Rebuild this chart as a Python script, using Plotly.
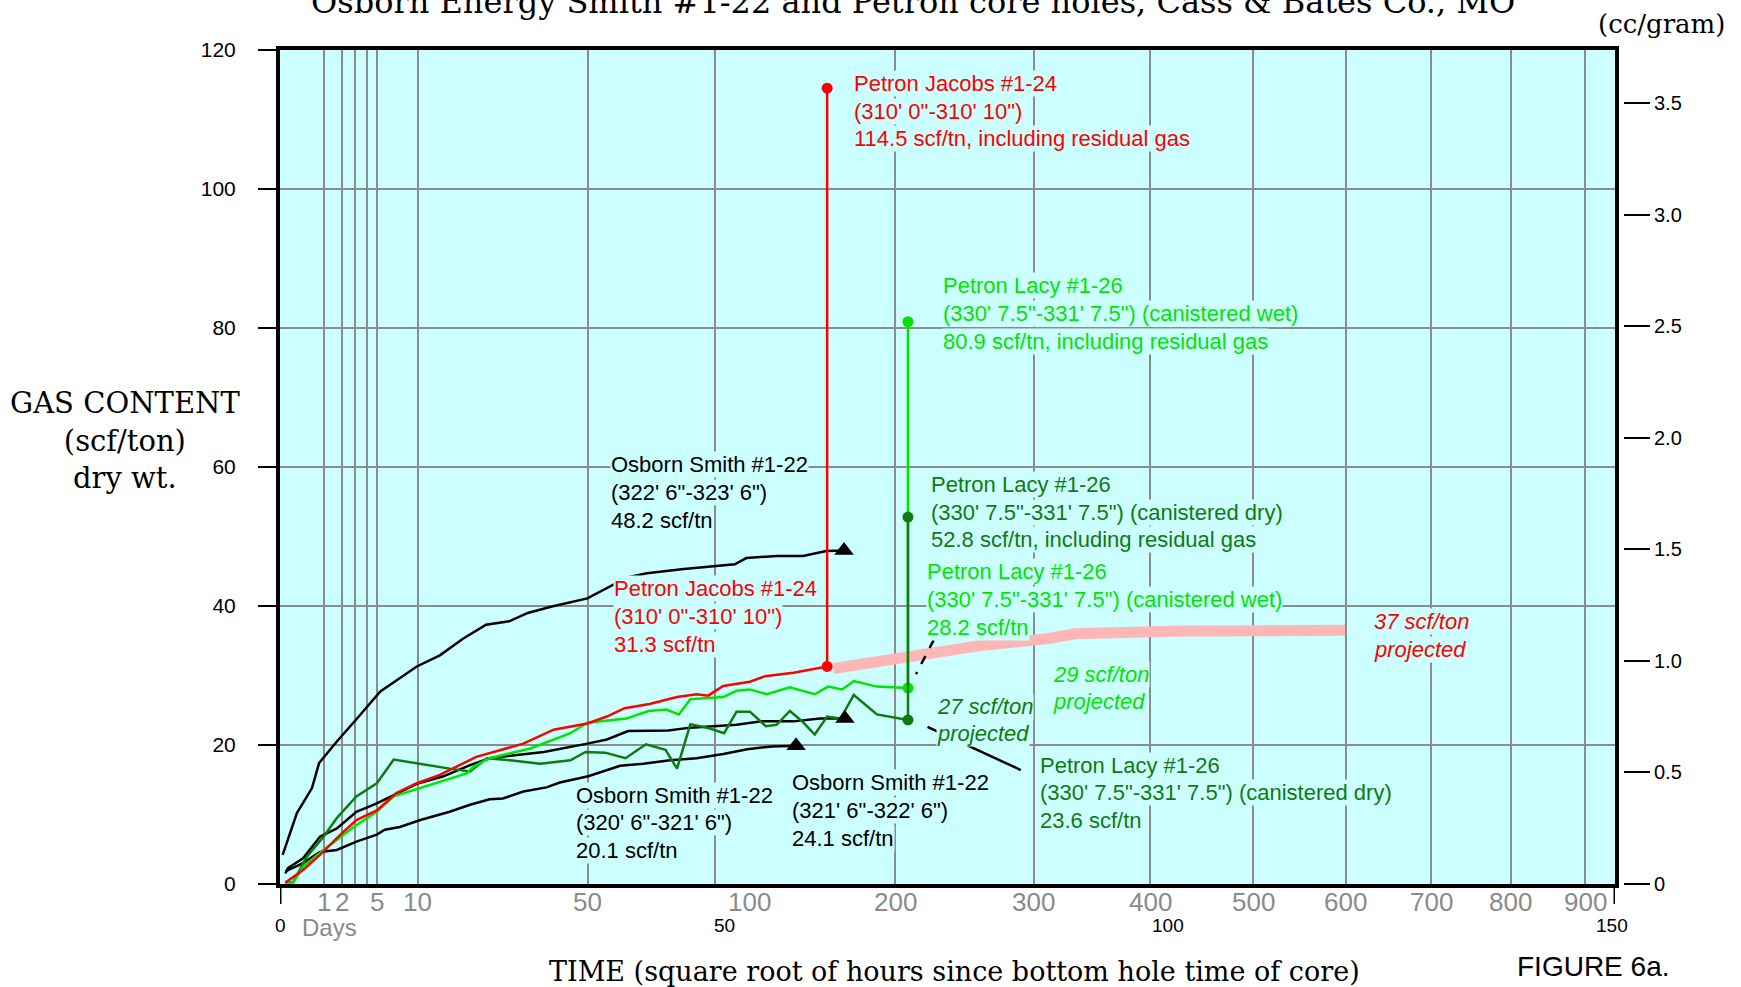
import math
import plotly.graph_objects as go

# ---------------- data (x = square root of hours since bottom-hole time, y = scf/ton)
jacobs_x = [0.6, 1.3, 2.6, 4.5, 6.8, 8.6, 10.9, 13.1, 15.4, 18.0, 22.1, 27.4, 30.8, 34.6,
            36.8, 38.8, 41.6, 44.7, 46.9, 48.2, 49.9, 52.9, 54.6, 57.8, 61.6]
jacobs_y = [0.2, 0.8, 2.0, 4.2, 7.1, 9.2, 10.6, 13.1, 14.5, 15.7, 18.3, 20.2, 22.2, 23.1,
            24.1, 25.3, 25.9, 26.9, 27.3, 27.1, 28.5, 29.1, 29.9, 30.4, 31.3]

lacy_wet_x = [0.6, 1.5, 2.6, 4.9, 8.3, 10.9, 12.8, 16.9, 21.0, 21.8, 23.6, 28.2, 32.7, 34.6,
              39.0, 41.5, 43.5, 44.9, 46.2, 49.9, 51.4, 52.9, 54.8, 57.4, 60.2, 61.7, 63.3,
              64.6, 67.2, 70.7]
lacy_wet_y = [0.2, 0.2, 2.5, 4.9, 8.2, 10.4, 12.6, 14.2, 15.9, 16.9, 18.1, 19.5, 21.7, 23.2,
              23.8, 24.9, 25.1, 24.4, 26.6, 26.9, 27.8, 28.0, 27.3, 28.3, 27.3, 28.4, 28.0,
              29.2, 28.4, 28.2]

lacy_dry_x = [0.6, 1.5, 3.0, 4.9, 6.4, 8.6, 10.9, 12.8, 19.1, 21.4, 23.3, 25.9, 29.3, 32.7,
              34.4, 36.6, 38.9, 41.2, 43.4, 44.7, 46.2, 48.3, 50.0, 51.4, 52.9, 54.7, 55.9,
              57.4, 58.8, 60.2, 61.6, 63.1, 64.6, 67.2, 70.7]
lacy_dry_y = [0.2, 0.3, 3.9, 6.8, 9.5, 12.6, 14.5, 17.9, 16.6, 16.2, 18.1, 17.8, 17.3, 17.8,
              19.0, 18.9, 18.1, 20.1, 19.3, 16.6, 23.0, 22.4, 21.7, 24.8, 24.8, 22.7, 22.9,
              24.9, 23.4, 21.5, 24.1, 23.8, 27.2, 24.4, 23.6]

smith_a_x = [0.3, 1.1, 1.9, 2.8, 3.6, 4.4, 6.4, 8.6, 11.3, 15.4, 18.0, 20.6, 23.2, 25.8,
             27.9, 30.5, 34.6, 39.1, 41.3, 45.2, 51.2, 52.5, 55.9, 58.9, 61.5, 63.5]
smith_a_y = [4.2, 7.3, 10.2, 12.1, 13.8, 17.4, 20.5, 23.7, 27.7, 31.3, 32.9, 35.3, 37.3, 37.8,
             39.0, 39.9, 41.1, 44.1, 44.7, 45.3, 46.0, 46.9, 47.2, 47.2, 47.9, 48.0]

smith_b_x = [0.6, 0.9, 2.6, 4.5, 6.4, 8.6, 10.9, 13.1, 15.4, 18.4, 21.4, 23.6, 29.7, 34.6,
             36.8, 39.2, 43.7, 46.2, 47.7, 51.4, 54.2, 57.8, 60.8, 63.6]
smith_b_y = [1.5, 2.3, 3.7, 6.8, 8.0, 10.4, 11.6, 13.0, 14.4, 15.5, 17.1, 18.1, 19.0, 20.2,
             20.8, 22.0, 22.1, 22.5, 22.6, 22.9, 23.4, 23.4, 23.8, 23.8]

smith_c_x = [0.6, 1.5, 2.6, 4.5, 6.4, 8.6, 10.9, 11.8, 13.5, 15.8, 19.1, 21.4, 23.6, 25.1,
             27.4, 30.0, 31.5, 34.7, 38.3, 40.9, 43.9, 46.9, 49.9, 52.6, 55.4, 58.1]
smith_c_y = [1.8, 2.3, 3.0, 4.6, 4.9, 6.1, 7.1, 7.8, 8.2, 9.2, 10.4, 11.4, 12.2, 12.3,
             13.3, 13.9, 14.6, 15.5, 17.0, 17.3, 17.8, 18.1, 18.7, 19.4, 19.8, 19.9]

smith_end_x = [63.5, 63.6, 58.1]
smith_end_y = [48.0, 23.8, 19.9]

projection_x = [62.3, 71.4, 78.8, 86.5, 89.5, 101.6, 109.1, 119.9]
projection_y = [31.0, 32.9, 34.3, 35.3, 36.0, 36.4, 36.6, 36.5]

jacobs_stem_x = 61.6
jacobs_stem_y = [31.3, 114.5]
lacy_stem_x = 70.7
lacy_wet_stem_y = [28.2, 80.9]
lacy_dry_stem_y = [23.6, 52.8]

grid_days = [1, 2, 3, 4, 5, 10, 50, 100, 200, 300, 400, 500, 600, 700, 800, 900]
label_days = [1, 2, 5, 10, 50, 100, 200, 300, 400, 500, 600, 700, 800, 900]
sqrt_hour_ticks = [0, 50, 100, 150]
cc_ticks = [0, 0.5, 1.0, 1.5, 2.0, 2.5, 3.0, 3.5]
cc_text = ["0", "0.5", "1.0", "1.5", "2.0", "2.5", "3.0", "3.5"]
SCF_PER_CC = 32.1

# ---------------- styling
BG = "#ccffff"
GRID = "#8c8c8c"
RED = "#ff0000"
LGREEN = "#00e400"
DGREEN = "#0f7a0f"
PINK = "#ffb6b6"
SANS = "Liberation Sans, Arial, sans-serif"
SERIF = "DejaVu Serif, serif"
LINE_PX = 27.8


def hrs(d):
    return math.sqrt(24.0 * d)


fig = go.Figure()

fig.add_trace(go.Scatter(x=projection_x, y=projection_y, mode="lines",
                         line=dict(color=PINK, width=11), hoverinfo="skip"))

for xs, ys in [(smith_a_x, smith_a_y), (smith_b_x, smith_b_y), (smith_c_x, smith_c_y)]:
    fig.add_trace(go.Scatter(x=xs, y=ys, mode="lines", line=dict(color="black", width=2.5)))

fig.add_trace(go.Scatter(x=lacy_dry_x, y=lacy_dry_y, mode="lines", line=dict(color=DGREEN, width=2.5)))
fig.add_trace(go.Scatter(x=lacy_wet_x, y=lacy_wet_y, mode="lines", line=dict(color=LGREEN, width=2.5)))
fig.add_trace(go.Scatter(x=jacobs_x, y=jacobs_y, mode="lines", line=dict(color=RED, width=2.5)))

fig.add_trace(go.Scatter(x=[jacobs_stem_x] * 2, y=jacobs_stem_y, mode="lines+markers",
                         line=dict(color=RED, width=2.5), marker=dict(color=RED, size=11)))
fig.add_trace(go.Scatter(x=[lacy_stem_x] * 2, y=lacy_wet_stem_y, mode="lines+markers",
                         line=dict(color=LGREEN, width=2.5), marker=dict(color=LGREEN, size=11)))
fig.add_trace(go.Scatter(x=[lacy_stem_x] * 2, y=lacy_dry_stem_y, mode="lines+markers",
                         line=dict(color=DGREEN, width=2.5), marker=dict(color=DGREEN, size=11)))

fig.add_trace(go.Scatter(x=smith_end_x, y=smith_end_y, mode="markers",
                         marker=dict(symbol="triangle-up", color="black", size=17)))

# invisible trace to carry the cc/gram axis
fig.add_trace(go.Scatter(x=[0, 0], y=[0, 120 / SCF_PER_CC], yaxis="y2", mode="lines",
                         line=dict(width=0, color="rgba(0,0,0,0)"), hoverinfo="skip"))

# ---------------- annotations
ann = []


def block(x, y, lines, color, italic=False, size=22):
    n = len(lines)
    for i, t in enumerate(lines):
        ann.append(dict(x=x, y=y, xref="x", yref="y", text=t, showarrow=False,
                        xanchor="left", yanchor="middle", align="left",
                        yshift=((n - 1) / 2.0 - i) * LINE_PX,
                        bgcolor=BG, borderpad=0,
                        font=dict(family=SANS, size=size, color=color,
                                  style="italic" if italic else "normal")))


block(64.5, 111.2, ["Petron Jacobs #1-24", "(310' 0\"-310' 10\")",
                    "114.5 scf/tn, including residual gas"], RED)
block(74.5, 82.1, ["Petron Lacy #1-26", "(330' 7.5\"-331' 7.5\") (canistered wet)",
                   "80.9 scf/tn, including residual gas"], LGREEN)
block(73.2, 53.5, ["Petron Lacy #1-26", "(330' 7.5\"-331' 7.5\") (canistered dry)",
                   "52.8 scf/tn, including residual gas"], DGREEN)
block(72.7, 40.9, ["Petron Lacy #1-26", "(330' 7.5\"-331' 7.5\") (canistered wet)",
                   "28.2 scf/tn"], LGREEN)
block(37.5, 38.5, ["Petron Jacobs #1-24", "(310' 0\"-310' 10\")", "31.3 scf/tn"], RED)
block(37.1, 56.3, ["Osborn Smith #1-22", "(322' 6\"-323' 6\")", "48.2 scf/tn"], "black")
block(33.2, 8.8, ["Osborn Smith #1-22", "(320' 6\"-321' 6\")", "20.1 scf/tn"], "black")
block(57.5, 10.6, ["Osborn Smith #1-22", "(321' 6\"-322' 6\")", "24.1 scf/tn"], "black")
block(85.5, 13.1, ["Petron Lacy #1-26", "(330' 7.5\"-331' 7.5\") (canistered dry)",
                   "23.6 scf/tn"], DGREEN)
block(123.0, 35.8, ["37 scf/ton", "projected"], RED, italic=True)
block(86.9, 28.2, ["29 scf/ton", "projected"], LGREEN, italic=True)
block(73.9, 23.6, ["27 scf/ton", "projected"], DGREEN, italic=True)

# day labels (grey) and square-root-of-hours labels (black) under the axis
for d in label_days:
    ann.append(dict(x=hrs(d), y=0, xref="x", yref="paper", text=str(d), showarrow=False,
                    xanchor="center", yanchor="middle", yshift=-18,
                    xshift=34 if d == 100 else 0,
                    font=dict(family=SANS, size=26, color="#8a8a8a")))
ann.append(dict(x=5.6, y=0, xref="x", yref="paper", text="Days", showarrow=False,
                xanchor="center", yanchor="middle", yshift=-43,
                font=dict(family=SANS, size=24, color="#8a8a8a")))
for v in sqrt_hour_ticks:
    ann.append(dict(x=v, y=0, xref="x", yref="paper", text=str(v), showarrow=False,
                    xanchor="center", yanchor="middle", yshift=-41,
                    font=dict(family=SANS, size=19, color="black")))

ann.append(dict(x=0.4713, y=1, xref="paper", yref="paper", yshift=48, showarrow=False,
                text="Osborn Energy Smith #1-22 and Petron core holes, Cass & Bates Co., MO",
                xanchor="center", yanchor="middle",
                font=dict(family=SERIF, size=32, color="black")))
ann.append(dict(x=1.029, y=1, xref="paper", yref="paper", yshift=26, showarrow=False,
                text="(cc/gram)", xanchor="center", yanchor="middle",
                font=dict(family=SERIF, size=26, color="black")))
ann.append(dict(x=-0.1154, y=0.5312, xref="paper", yref="paper", showarrow=False,
                text="GAS CONTENT<br>(scf/ton)<br>dry wt.", align="center",
                xanchor="center", yanchor="middle",
                font=dict(family=SERIF, size=29, color="black")))
ann.append(dict(x=0.5026, y=0, xref="paper", yref="paper", yshift=-87, showarrow=False,
                text="TIME (square root of hours since bottom hole time of core)",
                xanchor="center", yanchor="middle",
                font=dict(family=SERIF, size=27, color="black")))
ann.append(dict(x=0.9777, y=0, xref="paper", yref="paper", yshift=-82, showarrow=False,
                text="FIGURE 6a.", xanchor="center", yanchor="middle",
                font=dict(family=SANS, size=28, color="black")))

# ---------------- shapes: leader lines and axis-line extensions
shapes = [
    dict(type="line", xref="x", yref="y", x0=73.6, y0=35.1, x1=71.6, y1=30.2,
         line=dict(color="black", width=2.5, dash="dash"), layer="above"),
    dict(type="line", xref="x", yref="y", x0=72.9, y0=22.6, x1=83.4, y1=16.4,
         line=dict(color="black", width=2.5), layer="above"),
]
for v in [0, 150.3]:
    shapes.append(dict(type="line", xref="x", yref="paper", ysizemode="pixel", yanchor=0,
                       x0=v, x1=v, y0=0, y1=-20, line=dict(color="black", width=3)))

fig.update_layout(
    width=1741, height=987,
    margin=dict(l=280, r=118, t=50, b=103),
    paper_bgcolor="white", plot_bgcolor=BG,
    showlegend=False,
    annotations=ann, shapes=shapes,
    xaxis=dict(range=[0, 150.3], domain=[0, 0.99404],
               tickvals=[hrs(d) for d in grid_days], showticklabels=False, ticks="",
               showgrid=True, gridcolor=GRID, gridwidth=2, zeroline=False,
               showline=True, linecolor="black", linewidth=4, mirror=True),
    yaxis=dict(range=[0, 120], tickvals=[0, 20, 40, 60, 80, 100, 120],
               ticks="outside", ticklen=18, tickwidth=2, tickcolor="black",
               ticklabelstandoff=18,
               tickfont=dict(family=SANS, size=21, color="black"),
               showgrid=True, gridcolor=GRID, gridwidth=2, zeroline=False,
               showline=True, linecolor="black", linewidth=4, mirror=True),
    yaxis2=dict(range=[0, 120 / SCF_PER_CC], overlaying="y", side="right",
                anchor="free", position=1.0, tickvals=cc_ticks, ticktext=cc_text,
                ticks="outside", ticklen=26, tickwidth=2, tickcolor="black",
                tickfont=dict(family=SANS, size=20, color="black"),
                showgrid=False, zeroline=False, showline=False),
)

fig.write_html("out.html", config={"displayModeBar": False},
               post_script="document.body.style.margin='0';")
